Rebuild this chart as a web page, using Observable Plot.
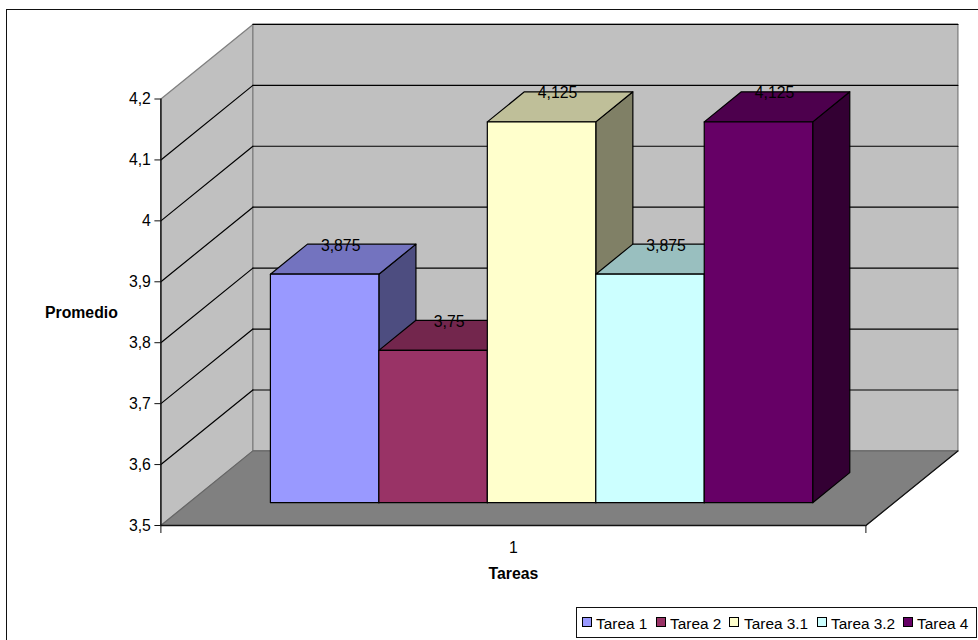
<!DOCTYPE html>
<html><head><meta charset="utf-8">
<script src="https://cdn.jsdelivr.net/npm/d3@7"></script>
<script src="https://cdn.jsdelivr.net/npm/@observablehq/plot@0.6"></script>
<style>
html,body{margin:0;padding:0;background:#fff;overflow:hidden;width:978px;height:640px}
#wrap{position:relative;width:978px;height:640px;overflow:hidden;font-family:"Liberation Sans",Arial,sans-serif}
#frame{position:absolute;left:6px;top:8.5px;width:990px;height:660px;border:1.6px solid #111;box-sizing:border-box}
#chart{position:absolute;left:0;top:0}
#legend{position:absolute;left:576px;top:607px;width:401px;height:31px;border:1.6px solid #111;box-sizing:border-box;background:#fff;font-size:15.4px;color:#000}
#legend span{position:absolute;top:6.5px;line-height:17px;white-space:nowrap}
#legend i{position:absolute;top:9px;width:8px;height:8px;border:1px solid #000}
</style></head><body>
<div id="wrap"><div id="frame"></div><div id="chart"></div><div id="legend"></div></div>
<script>
const seriesNames = ["Tarea 1","Tarea 2","Tarea 3.1","Tarea 3.2","Tarea 4"];
const seriesValues = [3.875,3.75,4.125,3.875,4.125];
const seriesColors = ["#9999ff","#993366","#ffffcc","#ccffff","#660066"];
const yTicks = [3.5,3.6,3.7,3.8,3.9,4,4.1,4.2];
const categoryLabels = ["1"];
const xTitle = "Tareas", yTitle = "Promedio";

// 3D shear expressed in data units: depth 0 = front plane, 1 = back wall
const shearX = 92/705, shearY = 74.5/608.6;
const barFront = 0.306, barBack = 0.709, gapWidth = 1.5;
const baseValue = yTicks[0], topValue = yTicks[yTicks.length-1];
const px = p => p[0] + p[2]*shearX;
const py = p => p[1] + p[2]*shearY;
const comma = v => String(v).replace(".",",");
const shade = (c,k) => { const r = d3.rgb(c); return d3.rgb(r.r*k,r.g*k,r.b*k).formatHex(); };
const face = (pts,fill,stroke="#000",strokeWidth=1.2) =>
  Plot.line(pts,{x:px,y:py,fill,stroke,strokeWidth,curve:"linear-closed",strokeLinejoin:"round"});
const seg = (pts,stroke="#000",strokeWidth=1.2) => Plot.line(pts,{x:px,y:py,stroke,strokeWidth});

const unit = 1/(seriesNames.length+gapWidth);
const marks = [];
// walls and floor
marks.push(face([[0,baseValue,0],[0,topValue,0],[0,topValue,1],[0,baseValue,1]],"#c0c0c0","#808080",1.3));
marks.push(face([[0,baseValue,1],[0,topValue,1],[1,topValue,1],[1,baseValue,1]],"#c0c0c0","#808080",1.3));
marks.push(face([[0,baseValue,0],[1,baseValue,0],[1,baseValue,1],[0,baseValue,1]],"#808080","#666",1.1));
// gridlines
yTicks.slice(1).forEach(v=>{
  if(v<topValue) marks.push(seg([[0,v,0],[0,v,1]]));
  marks.push(seg([[0,v,1],[1,v,1]]));
});
marks.push(seg([[1,baseValue,0],[1,baseValue,1]],"#111",1.2));
// bars
seriesValues.forEach((v,i)=>{
  const a=(gapWidth/2+i)*unit, b=a+unit, c=seriesColors[i];
  marks.push(face([[b,baseValue,barFront],[b,baseValue,barBack],[b,v,barBack],[b,v,barFront]],shade(c,.5)));
  marks.push(face([[a,v,barFront],[b,v,barFront],[b,v,barBack],[a,v,barBack]],shade(c,.75)));
  marks.push(face([[a,baseValue,barFront],[b,baseValue,barFront],[b,v,barFront],[a,v,barFront]],c));
});
// axes
marks.push(Plot.ruleX([0],{y1:baseValue,y2:topValue,stroke:"#111",strokeWidth:1.4}));
marks.push(Plot.ruleY([baseValue],{x1:0,x2:1,stroke:"#111",strokeWidth:1.6}));
marks.push(Plot.axisY(yTicks,{tickFormat:comma,tickSize:6,tickPadding:4,label:null,stroke:"#111",fill:"#000"}));
marks.push(Plot.axisX([0,1],{tickSize:8,tickFormat:()=>"",label:null,stroke:"#111"}));
marks.push(Plot.axisX([0.5],{tickSize:0,tickPadding:16,tickFormat:()=>categoryLabels[0],label:null,fill:"#000"}));
// titles
marks.push(Plot.text([yTitle],{x:()=>0,y:()=>3.849,dx:-79.5,fontWeight:"bold",fill:"#000"}));
marks.push(Plot.text([xTitle],{x:()=>0.5,y:()=>baseValue,dy:48,fontWeight:"bold",fill:"#000"}));
// value labels: centre of the top face, level with its back edge
marks.push(Plot.text(seriesValues,{
  x:(v,i)=>(gapWidth/2+i+0.5)*unit+(barFront+barBack)/2*shearX,
  y:v=>v+barBack*shearY,
  dx:-2.5,dy:1.5,
  text:comma,fill:"#000"}));

const plot = Plot.plot({
  width:978,height:640,
  marginLeft:160.4,marginRight:112.6,marginTop:98.5,marginBottom:115,
  x:{domain:[0,1],axis:null},
  y:{domain:[baseValue,topValue],axis:null},
  style:{fontFamily:'"Liberation Sans",Arial,sans-serif',fontSize:"15.8px",background:"transparent",color:"#000"},
  marks
});
document.getElementById("chart").append(plot);

// legend
const swatchLeft=[5,79,152,240,326], textLeft=[19,93,167,254,340];
const lg=document.getElementById("legend");
seriesNames.forEach((n,i)=>{
  const s=document.createElement("i"); s.style.left=swatchLeft[i]+"px"; s.style.background=seriesColors[i]; lg.append(s);
  const t=document.createElement("span"); t.style.left=textLeft[i]+"px"; t.textContent=n; lg.append(t);
});
</script></body></html>
